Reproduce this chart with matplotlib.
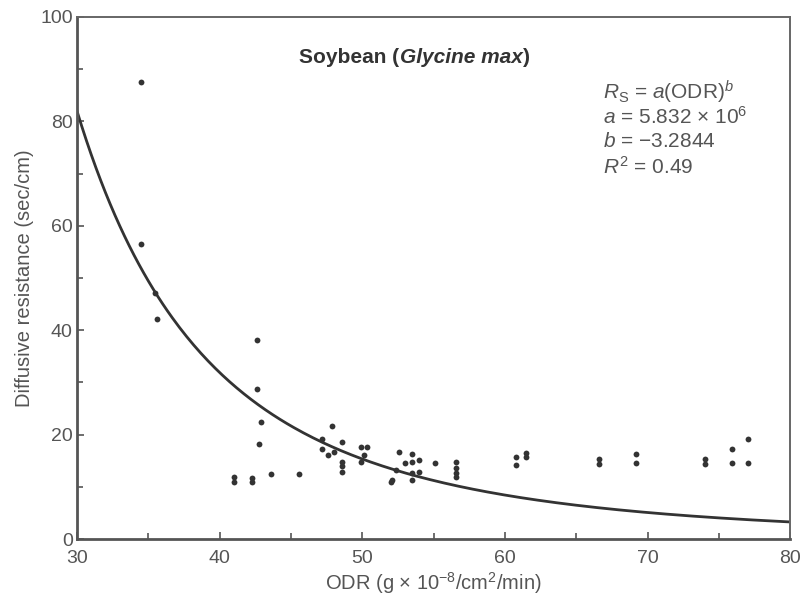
import matplotlib
matplotlib.use("Agg")
import matplotlib.pyplot as plt
import numpy as np

# ----------------------------------------------------------------------
#  DATA
# ----------------------------------------------------------------------
odr = [34.5, 34.5, 35.5, 35.6,
       42.6, 42.6, 42.9, 42.8,
       41.0, 41.0, 42.3, 42.3, 43.6, 45.6,
       47.9, 47.2, 48.6, 47.2, 47.6, 48.0,
       48.6, 48.6, 48.6,
       49.9, 50.3, 50.1, 49.9,
       52.6, 53.5, 53.0, 53.5, 54.0, 55.1,
       52.4, 52.1, 52.0, 53.5, 53.5, 54.0,
       56.6, 56.6, 56.6, 56.6,
       60.8, 60.8, 61.5, 61.5,
       66.6, 66.6, 69.2, 69.2,
       74.0, 74.0, 75.9, 75.9, 77.0, 77.0]
resistance = [87.6, 56.6, 47.2, 42.1,
              38.1, 28.7, 22.4, 18.2,
              11.0, 11.8, 11.0, 11.6, 12.4, 12.4,
              21.6, 19.1, 18.6, 17.2, 16.1, 16.7,
              14.8, 13.9, 12.9,
              17.7, 17.7, 16.1, 14.8,
              16.7, 16.3, 14.6, 14.8, 15.1, 14.6,
              13.2, 11.3, 11.0, 12.6, 11.3, 12.8,
              14.7, 13.7, 12.6, 11.9,
              15.7, 14.2, 16.5, 15.8,
              15.3, 14.3, 16.3, 14.6,
              15.3, 14.3, 17.2, 14.6, 19.2, 14.6]

# fitted model printed on the chart
a_coef = 5.832e6
b_coef = -3.2844
r_squared = 0.49

x_ticks = [30, 40, 50, 60, 70, 80]
y_ticks = [0, 20, 40, 60, 80, 100]

# ----------------------------------------------------------------------
#  PLOT
# ----------------------------------------------------------------------
plt.rcParams['font.family'] = ['Liberation Sans', 'DejaVu Sans']
plt.rcParams['mathtext.fontset'] = 'custom'
plt.rcParams['mathtext.rm'] = 'Liberation Sans'
plt.rcParams['mathtext.it'] = 'Liberation Sans:italic'
plt.rcParams['mathtext.bf'] = 'Liberation Sans:bold'

text_color = '#555555'
ink = '#333333'
fs = 14.5

fig = plt.figure(figsize=(8.0, 6.05), dpi=100)
ax = fig.add_axes([0.096, 0.109, 0.892, 0.863])

x_fit = np.linspace(30, 80, 300)
ax.plot(x_fit, a_coef * x_fit ** b_coef, color=ink, linewidth=2.0)
ax.plot(odr, resistance, linestyle='none', marker='o', markersize=4.2,
        color=ink, markeredgewidth=0)

ax.set_xlim(30, 80)
ax.set_ylim(0, 100)
ax.set_xticks(x_ticks)
ax.set_yticks(y_ticks)
ax.set_xticks(np.arange(35, 80, 10), minor=True)
ax.set_yticks(np.arange(10, 100, 20), minor=True)
ax.tick_params(which='both', direction='in', color=text_color, labelcolor=text_color,
               labelsize=fs - 0.5, width=1.2)
ax.tick_params(which='major', length=5)
ax.tick_params(which='minor', length=4)
ax.tick_params(axis='x', pad=8)
ax.tick_params(axis='y', pad=3)
for side in ['left', 'bottom']:
    ax.spines[side].set_linewidth(2.0)
    ax.spines[side].set_color('#555555')
for side in ['top', 'right']:
    ax.spines[side].set_linewidth(1.4)
    ax.spines[side].set_color('#666666')

ax.set_xlabel(r'ODR (g $\times$ 10$^{-8}$/cm$^2$/min)', fontsize=fs, color=text_color,
              labelpad=2)
ax.set_ylabel('Diffusive resistance (sec/cm)', fontsize=fs, color=text_color, labelpad=4)

# title inside the axes: bold, species name in bold italic
t1 = ax.text(45.6, 92.3, 'Soybean (', fontsize=fs + 0.5, fontweight='bold', color=ink,
             va='center', ha='left')
t2 = ax.annotate('Glycine max', xy=(1, 0), xycoords=t1, va='bottom', ha='left',
                 fontsize=fs + 0.5, fontweight='bold', fontstyle='italic', color=ink)
ax.annotate(')', xy=(1, 0), xycoords=t2, va='bottom', ha='left',
            fontsize=fs + 0.5, fontweight='bold', color=ink)

eq_lines = [r'$R_\mathrm{S}$ = $a$(ODR)$^b$',
            r'$a$ = 5.832 $\times$ 10$^6$',
            r'$b$ = $-$3.2844',
            r'$R^2$ = %.2f' % r_squared]
for k, line in enumerate(eq_lines):
    ax.text(66.9, 85.6 - k * 4.75, line, fontsize=fs + 0.5, color=text_color,
            va='center', ha='left')

fig.savefig('out.png', dpi=100)
